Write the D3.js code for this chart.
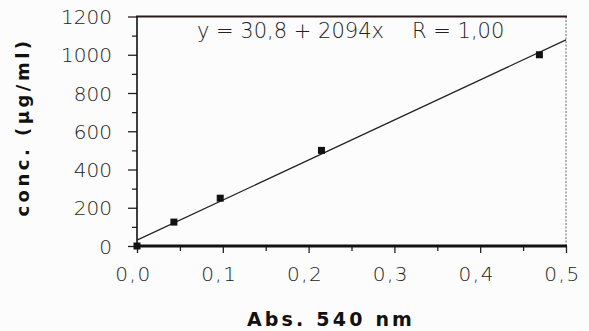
<!DOCTYPE html>
<html>
<head>
<meta charset="utf-8">
<script src="https://cdn.jsdelivr.net/npm/d3@7"></script>
<style>
  body { margin: 0; background: #fcfcfc; }
  svg { display: block; }
  .tick text { font-family: "DejaVu Sans", sans-serif; font-weight: 200; fill: #222; }
</style>
</head>
<body>
<svg id="chart" width="589" height="331" viewBox="0 0 589 331"></svg>
<script>
// data
const absorbance = [0.0, 0.043, 0.097, 0.215, 0.469];
const concentration = [0, 125, 250, 500, 1000];
const fitX = [0, 0.5];
const fitY = [30.8, 1077.8];
const xTicks = [0, 0.1, 0.2, 0.3, 0.4, 0.5];
const xMinorTicks = [0.05, 0.15, 0.25, 0.35, 0.45];
const yTicks = [0, 200, 400, 600, 800, 1000, 1200];
const yMinorTicks = [100, 300, 500, 700, 900, 1100];
const equationText = "y = 30,8 + 2094x";
const rText = "R = 1,00";

const svg = d3.select('#chart');
const plot_left = 137, plot_right = 566, plot_top = 16.5, plot_bottom = 246;

const x_scale = d3.scaleLinear().domain([0, 0.5]).range([plot_left, plot_right]);
const y_scale = d3.scaleLinear().domain([0, 1200]).range([plot_bottom, plot_top]);

const fmtX = d => d.toFixed(1).replace('.', ',');

// minor ticks
svg.append("g")
    .attr("transform", "translate(0," + plot_bottom + ")")
    .call(d3.axisBottom(x_scale).tickValues(xMinorTicks).tickSize(5).tickFormat(""))
    .call(g => g.select(".domain").remove())
    .selectAll("line").attr("stroke", "#222").attr("stroke-width", 1.3);
svg.append("g")
    .attr("transform", "translate(" + plot_left + ",0)")
    .call(d3.axisLeft(y_scale).tickValues(yMinorTicks).tickSize(5).tickFormat(""))
    .call(g => g.select(".domain").remove())
    .selectAll("line").attr("stroke", "#222").attr("stroke-width", 1.3);

// major axes
const xAxis = svg.append("g")
    .attr("transform", "translate(0," + plot_bottom + ")")
    .call(d3.axisBottom(x_scale).tickValues(xTicks).tickSize(7).tickPadding(22).tickFormat(fmtX));
xAxis.select(".domain").remove();
xAxis.selectAll("line").attr("stroke", "#222").attr("stroke-width", 1.3);
xAxis.selectAll("text").attr("font-size", 20).attr("letter-spacing", 1.5)
    .attr("dy", "0.3em").attr("dx", -4);

const yAxis = svg.append("g")
    .attr("transform", "translate(" + plot_left + ",0)")
    .call(d3.axisLeft(y_scale).tickValues(yTicks).tickSize(9).tickPadding(16).tickFormat(d3.format("d")));
yAxis.select(".domain").remove();
yAxis.selectAll("line").attr("stroke", "#222").attr("stroke-width", 1.3);
yAxis.selectAll("text").attr("font-size", 20).attr("dy", "0.36em");

// frame
svg.append("line").attr("x1", plot_right).attr("x2", plot_right).attr("y1", plot_top).attr("y2", plot_bottom)
    .attr("stroke", "#666").attr("stroke-width", 1).attr("stroke-dasharray", "2,1.5");
svg.append("line").attr("x1", plot_left).attr("x2", plot_left).attr("y1", plot_top).attr("y2", plot_bottom)
    .attr("stroke", "#111").attr("stroke-width", 1.6);
svg.append("line").attr("x1", plot_left - 1).attr("x2", plot_right + 1).attr("y1", plot_top).attr("y2", plot_top)
    .attr("stroke", "#2a1a1a").attr("stroke-width", 2.2);
svg.append("line").attr("x1", plot_left - 1).attr("x2", plot_right + 1).attr("y1", plot_bottom).attr("y2", plot_bottom)
    .attr("stroke", "#111").attr("stroke-width", 3);

// fit line
const fitData = fitX.map((d, i) => [d, fitY[i]]);
svg.append("path")
    .datum(fitData)
    .attr("d", d3.line().x(d => x_scale(d[0])).y(d => y_scale(d[1])))
    .attr("fill", "none")
    .attr("stroke", "#222")
    .attr("stroke-width", 1.2);

// points
const pts = absorbance.map((d, i) => ({ x: d, y: concentration[i] }));
const sq = 7;
svg.append("g").selectAll("rect")
    .data(pts)
    .enter().append("rect")
    .attr("x", d => x_scale(d.x) - sq / 2)
    .attr("y", d => y_scale(d.y) - sq / 2)
    .attr("width", sq)
    .attr("height", sq)
    .attr("fill", "#111");

// equation
svg.append("text")
    .attr("x", 197).attr("y", 38)
    .attr("font-family", "DejaVu Sans, sans-serif").attr("font-weight", 200)
    .attr("font-size", 21).attr("fill", "#222")
    .text(equationText);
svg.append("text")
    .attr("x", 412).attr("y", 38)
    .attr("font-family", "DejaVu Sans, sans-serif").attr("font-weight", 200)
    .attr("font-size", 21).attr("fill", "#222")
    .text(rText);

// axis titles
svg.append("text")
    .attr("x", 331).attr("y", 326)
    .attr("text-anchor", "middle")
    .attr("font-family", "DejaVu Sans, sans-serif").attr("font-weight", "bold")
    .attr("font-size", 19).attr("letter-spacing", 3.2).attr("fill", "#111")
    .text("Abs. 540 nm");
svg.append("text")
    .attr("transform", "translate(29,127) rotate(-90)")
    .attr("text-anchor", "middle")
    .attr("font-family", "DejaVu Sans, sans-serif").attr("font-weight", "bold")
    .attr("font-size", 18).attr("letter-spacing", 3.5).attr("fill", "#111")
    .text("conc. (µg/ml)");
</script>
</body>
</html>
